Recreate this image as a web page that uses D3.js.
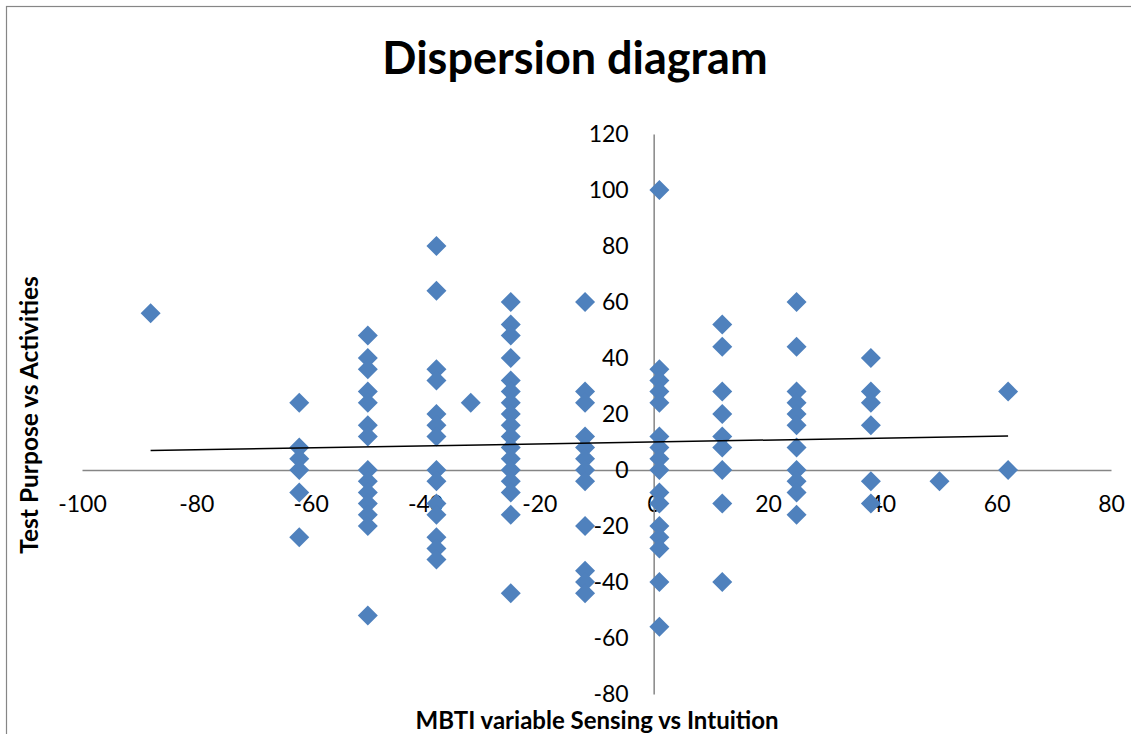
<!DOCTYPE html>
<html>
<head>
<meta charset="utf-8">
<script src="https://cdn.jsdelivr.net/npm/d3@7"></script>
<style>
  body { margin: 0; background: #fff; }
  text { font-family: Lato, "Open Sans", sans-serif; fill: #000; }
</style>
</head>
<body>
<div id="scatter"></div>
<script>
'use strict';
// data: MBTI S/N score vs test purpose/activities score
var sensing = [
  -88,
  -62, -62, -62, -62, -62, -62,
  -50, -50, -50, -50, -50, -50, -50, -50, -50, -50, -50, -50, -50, -50,
  -38, -38, -38, -38, -38, -38, -38, -38, -38, -38, -38, -38, -38, -38,
  -32,
  -25, -25, -25, -25, -25, -25, -25, -25, -25, -25, -25, -25, -25, -25, -25, -25, -25,
  -12, -12, -12, -12, -12, -12, -12, -12, -12, -12, -12, -12,
  1, 1, 1, 1, 1, 1, 1, 1, 1, 1, 1, 1, 1, 1, 1, 1,
  12, 12, 12, 12, 12, 12, 12, 12, 12,
  25, 25, 25, 25, 25, 25, 25, 25, 25, 25, 25,
  38, 38, 38, 38, 38, 38,
  50,
  62, 62
];
var activities = [
  56,
  24, 8, 4, 0, -8, -24,
  48, 40, 36, 28, 24, 16, 12, 0, -4, -8, -12, -16, -20, -52,
  80, 64, 36, 32, 20, 16, 12, 0, -4, -12, -16, -24, -28, -32,
  24,
  60, 52, 48, 40, 32, 28, 24, 20, 16, 12, 8, 4, 0, -4, -8, -16, -44,
  60, 28, 24, 12, 8, 4, 0, -4, -20, -36, -40, -44,
  100, 36, 32, 28, 24, 12, 8, 4, 0, -8, -12, -20, -24, -28, -40, -56,
  52, 44, 28, 20, 12, 8, 0, -12, -40,
  60, 44, 28, 24, 20, 16, 8, 0, -4, -8, -16,
  40, 28, 24, 16, -4, -12,
  -4,
  28, 0
];
// linear trend line as shown in the picture (y = slope * x + intercept)
var trendSlope = 0.035;
var trendIntercept = 10.0;

var xTicks = [-100, -80, -60, -40, -20, 0, 20, 40, 60, 80];
var yTicks = [-80, -60, -40, -20, 0, 20, 40, 60, 80, 100, 120];
var labels = {
  title: 'Dispersion diagram',
  xAxis: 'MBTI variable Sensing vs Intuition',
  yAxis: 'Test Purpose vs Activities'
};

var W = 1131, H = 734;
var margin = {top: 134, right: 20, bottom: 40, left: 82},
    width = W - margin.left - margin.right,
    height = H - margin.top - margin.bottom;

var points = sensing.map(function(v, i) { return {x: v, y: activities[i]}; });

// set the ranges
var x = d3.scaleLinear().domain([-100, 80]).range([0, width]);
var y = d3.scaleLinear().domain([-80, 120]).range([height, 0]);

var svg = d3.select('#scatter').append('svg')
    .attr('width', W)
    .attr('height', H);

// outer chart border (only top and left show in the picture)
svg.append('rect')
    .attr('x', 6.5).attr('y', 6.5)
    .attr('width', W + 20).attr('height', H + 20)
    .attr('fill', 'none')
    .attr('stroke', '#868686')
    .attr('stroke-width', 1.2);

var g = svg.append('g')
    .attr('transform', 'translate(' + margin.left + ',' + margin.top + ')');

var plain = function(d) { return String(d); };   // hyphen minus, like the original

// x axis crosses at y = 0
var xAxis = g.append('g')
    .attr('transform', 'translate(0,' + y(0) + ')')
    .call(d3.axisBottom(x).tickValues(xTicks).tickFormat(plain).tickSize(0).tickPadding(26));

// y axis crosses at x = 0
var yAxis = g.append('g')
    .attr('transform', 'translate(' + x(0) + ',0)')
    .call(d3.axisLeft(y).tickValues(yTicks).tickFormat(plain).tickSize(0).tickPadding(25));

[xAxis, yAxis].forEach(function(a) {
  a.select('.domain').attr('stroke', '#868686').attr('stroke-width', 1.5);
  a.selectAll('text')
      .style('font-family', 'Lato, sans-serif')
      .style('font-size', '23px')
      .attr('fill', '#000');
});

// markers
g.selectAll('.dot')
    .data(points)
  .enter().append('path')
    .attr('class', 'dot')
    .attr('d', d3.symbol(d3.symbolSquare, 200))
    .attr('transform', function(d) {
      return 'translate(' + x(d.x) + ',' + y(d.y) + ') rotate(45)';
    })
    .attr('fill', '#4F81BD');

// trend line over the data range
var xr = d3.extent(points, function(d) { return d.x; });
g.append('line')
    .attr('x1', x(xr[0])).attr('y1', y(trendIntercept + trendSlope * xr[0]))
    .attr('x2', x(xr[1])).attr('y2', y(trendIntercept + trendSlope * xr[1]))
    .attr('stroke', '#000')
    .attr('stroke-width', 1.5);

// title
svg.append('text')
    .attr('x', 575).attr('y', 74)
    .style('text-anchor', 'middle')
    .style('font-size', '45px')
    .style('font-weight', 'bold')
    .text(labels.title);

// x axis label
svg.append('text')
    .attr('x', 597).attr('y', 729)
    .style('text-anchor', 'middle')
    .style('font-size', '24px')
    .style('font-weight', 'bold')
    .text(labels.xAxis);

// y axis label
svg.append('text')
    .attr('transform', 'translate(38,415) rotate(-90)')
    .style('text-anchor', 'middle')
    .style('font-size', '24.5px')
    .style('font-weight', 'bold')
    .text(labels.yAxis);
</script>
</body>
</html>
